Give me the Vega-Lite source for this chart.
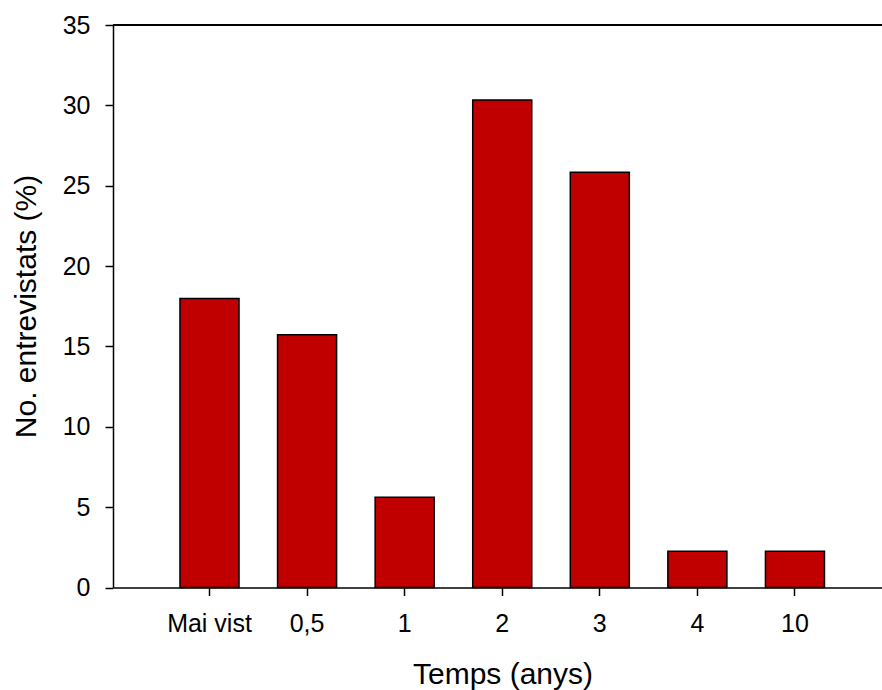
{
  "$schema": "https://vega.github.io/schema/vega-lite/v6.json",
  "width": 769,
  "height": 562.5,
  "autosize": "none",
  "padding": {"left": 113, "top": 25, "right": 0, "bottom": 102.5},
  "background": "white",
  "config": {
    "view": {"stroke": null},
    "font": "Liberation Sans",
    "axis": {
      "grid": false,
      "domainColor": "black",
      "tickColor": "black",
      "labelColor": "black",
      "titleColor": "black",
      "domainWidth": 1.5,
      "tickWidth": 1.5,
      "labelFont": "Liberation Sans",
      "titleFont": "Liberation Sans",
      "labelFontSize": 25,
      "titleFontSize": 30,
      "titleFontWeight": "normal"
    }
  },
  "data": {
    "values": [
      {"temps": "Mai vist", "pct": 17.98},
      {"temps": "0,5", "pct": 15.73},
      {"temps": "1", "pct": 5.62},
      {"temps": "2", "pct": 30.34},
      {"temps": "3", "pct": 25.84},
      {"temps": "4", "pct": 2.25},
      {"temps": "10", "pct": 2.25}
    ]
  },
  "layer": [
    {
      "mark": {"type": "bar", "color": "#C00000", "stroke": "black", "strokeWidth": 1.5},
      "encoding": {
        "x": {
          "field": "temps",
          "type": "nominal",
          "sort": null,
          "scale": {"paddingInner": 0.395, "paddingOuter": 0.638, "align": 0.538},
          "axis": {
            "title": "Temps (anys)",
            "labelAngle": 0,
            "tickSize": 8,
            "labelPadding": 16,
            "titleX": 389.5,
            "titleY": 95.8,
            "titleAlign": "center",
            "titleBaseline": "alphabetic"
          }
        },
        "y": {
          "field": "pct",
          "type": "quantitative",
          "scale": {"domain": [0, 35], "nice": false},
          "axis": {
            "title": "No. entrevistats (%)",
            "values": [0, 5, 10, 15, 20, 25, 30, 35],
            "tickSize": 8,
            "labelPadding": 15,
            "titleX": -77.3,
            "titleY": 281,
            "titleAlign": "center",
            "titleBaseline": "alphabetic"
          }
        }
      }
    },
    {
      "mark": {"type": "rule", "color": "black", "strokeWidth": 1.5},
      "encoding": {"y": {"datum": 35}}
    }
  ]
}
